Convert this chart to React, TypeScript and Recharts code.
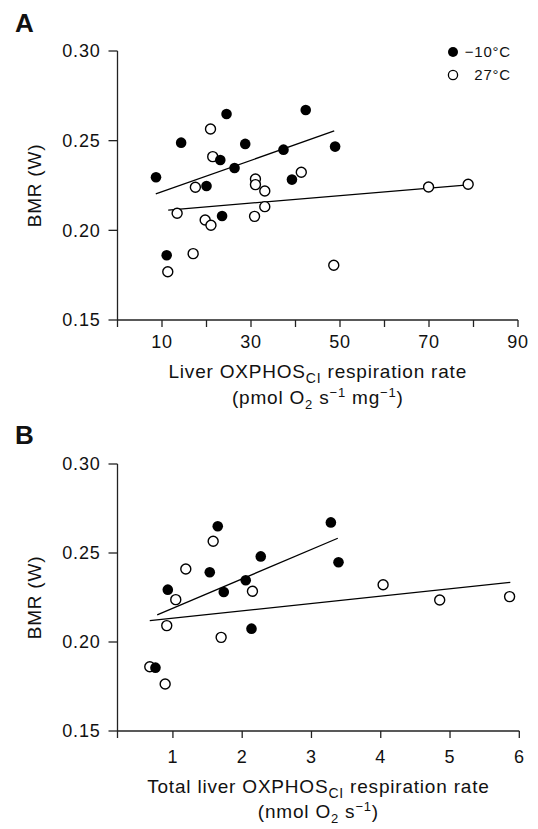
import { ScatterChart, Scatter, XAxis, YAxis, ReferenceLine } from 'recharts';

const FONT = '"Liberation Sans", Arial, Helvetica, sans-serif';
const INK = '#111';

// legend
const groupLabels = ['\u221210\u00b0C', '27\u00b0C'];

// panel A: liver OXPHOS_CI respiration rate (pmol O2 s-1 mg-1) vs BMR (W)
const aColdX = [8.65, 14.3, 24.5, 23.1, 28.7, 26.3, 20.0, 23.5, 11.05, 37.3, 42.3, 39.2, 48.9];
const aColdY = [0.2296, 0.2489, 0.2649, 0.2392, 0.2482, 0.2348, 0.2247, 0.208, 0.1861, 0.245, 0.2671, 0.2283, 0.2467];
const aWarmX = [20.9, 21.4, 17.5, 31.0, 31.0, 33.1, 41.3, 13.4, 19.7, 21.0, 33.1, 30.8, 17.0, 11.3, 69.9, 78.8, 48.6];
const aWarmY = [0.2565, 0.2411, 0.224, 0.2286, 0.2255, 0.2219, 0.2324, 0.2095, 0.2058, 0.2028, 0.2132, 0.2078, 0.187, 0.1769, 0.2242, 0.2257, 0.1805];
const aColdFit = [[8.6, 0.2203], [48.7, 0.2554]];
const aWarmFit = [[11.4, 0.2113], [78.8, 0.2253]];
const aTicks = [0, 10, 20, 30, 40, 50, 60, 70, 80, 90];

// panel B: total liver OXPHOS_CI respiration rate (nmol O2 s-1) vs BMR (W)
const bColdX = [1.647, 2.268, 1.532, 2.051, 1.734, 0.926, 2.134, 3.28, 3.39, 0.748];
const bColdY = [0.265, 0.2481, 0.2392, 0.2347, 0.2281, 0.2294, 0.2075, 0.2672, 0.2448, 0.1856];
const bWarmX = [1.581, 1.186, 1.041, 2.148, 0.911, 1.696, 4.034, 4.851, 5.86, 0.666, 0.888];
const bWarmY = [0.2566, 0.241, 0.2238, 0.2285, 0.2092, 0.2026, 0.2322, 0.2236, 0.2255, 0.1861, 0.1764];
const bColdFit = [[0.773, 0.2152], [3.38, 0.2583]];
const bWarmFit = [[0.666, 0.212], [5.87, 0.2335]];
const bTicks = [0.2, 1, 2, 3, 4, 5, 6];

const bmrTicks = [0.15, 0.2, 0.25, 0.3];

const zip = (xs: number[], ys: number[]) => xs.map((x, i) => ({ x, y: ys[i] }));
const seg = (f: number[][]) => f.map(([x, y]) => ({ x, y }));

const Filled = (p: any) => <circle cx={p.cx} cy={p.cy} r={5.3} fill="#000" />;
const Open = (p: any) => (
  <circle cx={p.cx} cy={p.cy} r={5} fill="#fff" stroke="#000" strokeWidth={1.4} />
);

const xTitleA = ({ viewBox }: any) => {
  const cx = viewBox.x + viewBox.width / 2;
  const y = viewBox.y;
  return (
    <g fill={INK} fontSize={19} textAnchor="middle">
      <text x={cx} y={y + 58}>
        <tspan>Liver OXPHOS</tspan>
        <tspan dy={5} fontSize={14}>CI</tspan>
        <tspan dy={-5}> respiration rate</tspan>
      </text>
      <text x={cx} y={y + 84}>
        <tspan>(pmol O</tspan>
        <tspan dy={5} fontSize={13}>2</tspan>
        <tspan dy={-5}> s</tspan>
        <tspan dy={-7} fontSize={13}>{'\u22121'}</tspan>
        <tspan dy={7}> mg</tspan>
        <tspan dy={-7} fontSize={13}>{'\u22121'}</tspan>
        <tspan dy={7}>)</tspan>
      </text>
    </g>
  );
};

const xTitleB = ({ viewBox }: any) => {
  const cx = viewBox.x + viewBox.width / 2;
  const y = viewBox.y;
  return (
    <g fill={INK} fontSize={19} textAnchor="middle">
      <text x={cx} y={y + 62}>
        <tspan>Total liver OXPHOS</tspan>
        <tspan dy={5} fontSize={14}>CI</tspan>
        <tspan dy={-5}> respiration rate</tspan>
      </text>
      <text x={cx} y={y + 87}>
        <tspan>(nmol O</tspan>
        <tspan dy={5} fontSize={13}>2</tspan>
        <tspan dy={-5}> s</tspan>
        <tspan dy={-7} fontSize={13}>{'\u22121'}</tspan>
        <tspan dy={7}>)</tspan>
      </text>
    </g>
  );
};

const yTitle = ({ viewBox }: any) => {
  const cy = viewBox.y + viewBox.height / 2;
  return (
    <text x={41} y={cy} transform={`rotate(-90 41 ${cy})`} textAnchor="middle" fontSize={19} fill={INK}>
      BMR (W)
    </text>
  );
};

const axisLine = { stroke: '#222', strokeWidth: 1.3 };
const tickStyle = { fontSize: 18, fill: INK };

function Panel(props: any) {
  const { width, height, margin, domain, ticks, fmt, tickMargin, cold, warm, coldFit, warmFit, xTitle } = props;
  return (
    <ScatterChart width={width} height={height} margin={margin}>
      <XAxis
        type="number"
        dataKey="x"
        domain={domain}
        ticks={ticks}
        tickFormatter={fmt}
        interval={0}
        tickSize={7}
        tickMargin={tickMargin}
        height={30}
        axisLine={axisLine}
        tickLine={axisLine}
        tick={tickStyle}
        label={{ content: xTitle }}
      />
      <YAxis
        type="number"
        dataKey="y"
        domain={[0.15, 0.3]}
        ticks={bmrTicks}
        tickFormatter={(v: number) => v.toFixed(2)}
        interval={0}
        width={117.5}
        tickSize={9}
        tickMargin={8}
        axisLine={axisLine}
        tickLine={axisLine}
        tick={tickStyle}
        label={{ content: yTitle }}
      />
      <ReferenceLine segment={seg(coldFit)} stroke="#000" strokeWidth={1.3} />
      <ReferenceLine segment={seg(warmFit)} stroke="#000" strokeWidth={1.3} />
      <Scatter name={groupLabels[1]} data={warm} shape={Open} isAnimationActive={false} />
      <Scatter name={groupLabels[0]} data={cold} shape={Filled} isAnimationActive={false} />
    </ScatterChart>
  );
}

const letterStyle: any = {
  position: 'absolute',
  left: 15,
  fontSize: 26,
  fontWeight: 'bold',
  lineHeight: '26px',
  color: INK,
};

export default function App() {
  return (
    <div
      style={{
        position: 'absolute',
        left: 0,
        top: 0,
        width: 538,
        height: 829,
        background: '#fff',
        fontFamily: FONT,
        letterSpacing: '0.8px',
        overflow: 'hidden',
      }}
    >
      <div style={{ ...letterStyle, top: 10 }}>A</div>
      <div style={{ ...letterStyle, top: 422 }}>B</div>

      <div style={{ position: 'absolute', left: 0, top: 0 }}>
        <Panel
          width={538}
          height={425}
          margin={{ top: 51, right: 20, bottom: 75, left: 0 }}
          domain={[0, 90]}
          ticks={aTicks}
          fmt={(v: number) => (v % 20 === 10 ? String(v) : '')}
          tickMargin={8}
          cold={zip(aColdX, aColdY)}
          warm={zip(aWarmX, aWarmY)}
          coldFit={aColdFit}
          warmFit={aWarmFit}
          xTitle={xTitleA}
        />
      </div>

      <div style={{ position: 'absolute', left: 0, top: 410 }}>
        <Panel
          width={538}
          height={419}
          margin={{ top: 54, right: 18.7, bottom: 68, left: 0 }}
          domain={[0.2, 6]}
          ticks={bTicks}
          fmt={(v: number) => (Number.isInteger(v) ? String(v) : '')}
          tickMargin={12}
          cold={zip(bColdX, bColdY)}
          warm={zip(bWarmX, bWarmY)}
          coldFit={bColdFit}
          warmFit={bWarmFit}
          xTitle={xTitleB}
        />
      </div>

      <div style={{ position: 'absolute', left: 447, top: 40, width: 64, fontSize: 15, color: INK }}>
        {groupLabels.map((label, i) => (
          <div key={label} style={{ display: 'flex', alignItems: 'center', height: 23 }}>
            <svg width={12} height={12} style={{ flex: 'none' }}>
              {i === 0 ? (
                <circle cx={6} cy={6} r={5} fill="#000" />
              ) : (
                <circle cx={6} cy={6} r={4.6} fill="#fff" stroke="#000" strokeWidth={1.3} />
              )}
            </svg>
            <span style={{ flex: 1, textAlign: 'right', lineHeight: '23px' }}>{label}</span>
          </div>
        ))}
      </div>
    </div>
  );
}
